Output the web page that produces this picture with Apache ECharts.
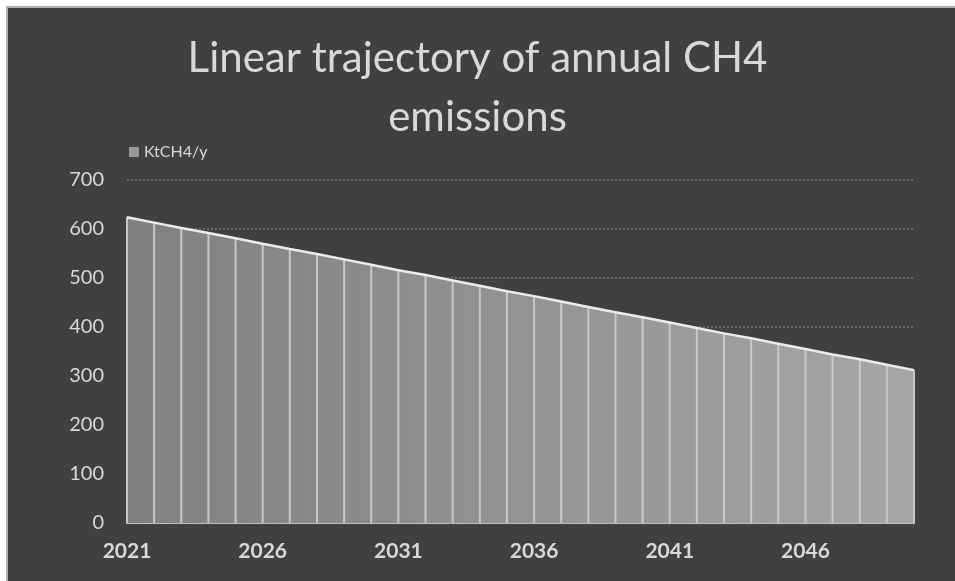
<!DOCTYPE html>
<html>
<head>
<meta charset="utf-8">
<script src="https://cdn.jsdelivr.net/npm/echarts@6/dist/echarts.min.js"></script>
<style>
  html, body { margin: 0; padding: 0; background: #ffffff; }
  #chart { width: 955px; height: 581px; }
</style>
</head>
<body>
<div id="chart"></div>
<script>
// Years on the category axis
const years = ['2021', '2022', '2023', '2024', '2025', '2026', '2027', '2028', '2029', '2030',
  '2031', '2032', '2033', '2034', '2035', '2036', '2037', '2038', '2039', '2040',
  '2041', '2042', '2043', '2044', '2045', '2046', '2047', '2048', '2049', '2050'];

// Annual methane emissions, kt CH4 per year
const emissions = [624, 613, 602, 592, 581, 570, 559, 549, 538, 527,
  516, 506, 495, 484, 473, 463, 452, 441, 430, 420,
  409, 398, 387, 377, 366, 355, 344, 334, 323, 312];

// Value axis ticks
const yTicks = [0, 100, 200, 300, 400, 500, 600, 700];

const seriesName = 'KtCH4/y';
const titleText = 'Linear trajectory of annual CH4\nemissions';

const chart = echarts.init(document.getElementById('chart'), null, { renderer: 'canvas' });

const font = 'Lato, "Open Sans", sans-serif';

chart.setOption({
  animation: false,
  backgroundColor: '#ffffff',
  graphic: [{
    type: 'rect',
    z: -10,
    silent: true,
    shape: { x: 7, y: 7, width: 960, height: 600 },
    style: { fill: '#404040', stroke: '#b0b0b0', lineWidth: 2 }
  }],
  title: {
    text: titleText,
    left: 'center',
    top: 24,
    textStyle: {
      fontFamily: font,
      fontWeight: 400,
      fontSize: 42,
      lineHeight: 59,
      color: '#d9d9d9'
    }
  },
  legend: {
    data: [{ name: seriesName, icon: 'rect' }],
    left: 124,
    top: 139,
    itemWidth: 10,
    itemHeight: 10,
    textStyle: { fontFamily: font, fontSize: 16, color: '#d9d9d9' }
  },
  grid: { left: 127, right: 41, top: 180, bottom: 58, containLabel: false },
  xAxis: {
    type: 'category',
    data: years,
    boundaryGap: false,
    axisLine: { lineStyle: { color: '#c0c0c0', width: 2 } },
    axisTick: { show: false },
    splitLine: { show: false },
    axisLabel: {
      interval: 4,
      margin: 18,
      fontFamily: font,
      fontWeight: 'bold',
      fontSize: 21,
      color: '#d9d9d9'
    }
  },
  yAxis: {
    type: 'value',
    min: yTicks[0],
    max: yTicks[yTicks.length - 1],
    interval: yTicks[1] - yTicks[0],
    axisLine: { show: false },
    axisTick: { show: false },
    splitLine: { lineStyle: { color: '#777777', width: 1.5, type: [2, 2] } },
    axisLabel: {
      margin: 23,
      fontFamily: font,
      fontSize: 20,
      color: '#d9d9d9'
    }
  },
  series: [
    {
      // shaded area under the trajectory
      name: seriesName,
      type: 'line',
      data: emissions,
      symbol: 'none',
      color: '#999999',
      lineStyle: { width: 0 },
      areaStyle: {
        opacity: 1,
        color: new echarts.graphic.LinearGradient(0, 0, 1, 0, [
          { offset: 0, color: '#808080' },
          { offset: 1, color: '#a6a6a6' }
        ])
      },
      z: 1
    },
    {
      // drop lines from each year down to the axis
      name: 'drop',
      type: 'custom',
      data: emissions.map((v, i) => [i, v]),
      renderItem: function (params, api) {
        const top = api.coord([api.value(0), api.value(1)]);
        const bot = api.coord([api.value(0), 0]);
        return {
          type: 'line',
          shape: { x1: top[0], y1: top[1], x2: bot[0], y2: bot[1] },
          style: { stroke: '#c8c8c8', lineWidth: 2 }
        };
      },
      z: 2
    },
    {
      // trajectory outline
      name: 'outline',
      type: 'line',
      data: emissions,
      symbol: 'none',
      lineStyle: { color: '#ececec', width: 2.5 },
      z: 3
    }
  ]
});
</script>
</body>
</html>
